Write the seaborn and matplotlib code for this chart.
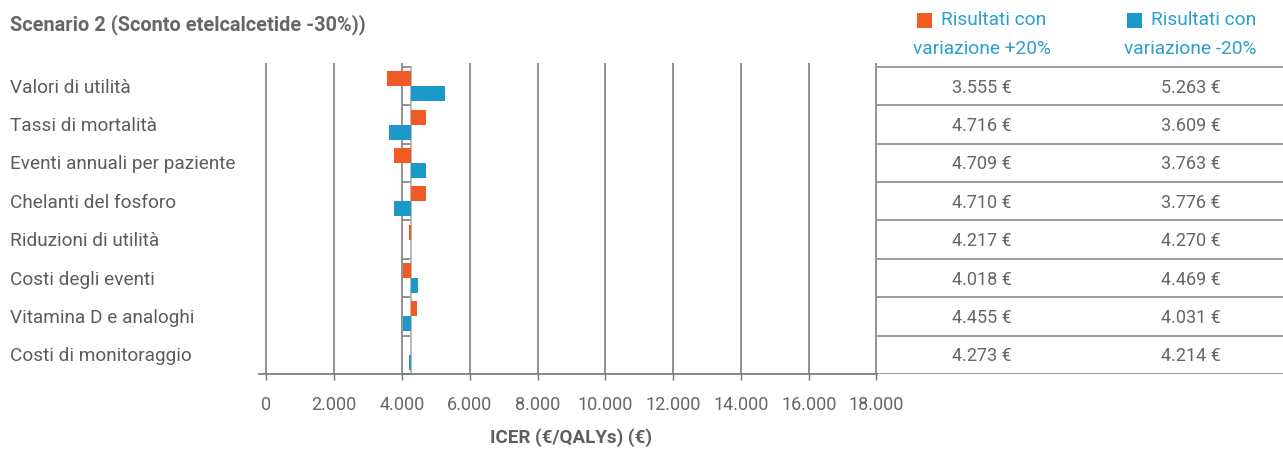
import matplotlib
matplotlib.use("Agg")
import matplotlib.pyplot as plt
import matplotlib.transforms as mtransforms
from matplotlib.patches import Rectangle
import seaborn as sns
import pandas as pd
import numpy as np

# ---------------- data ----------------
categories = ["Valori di utilità", "Tassi di mortalità", "Eventi annuali per paziente",
              "Chelanti del fosforo", "Riduzioni di utilità", "Costi degli eventi",
              "Vitamina D e analoghi", "Costi di monitoraggio"]
# bar ends as drawn in the chart
bar_plus20 = [3555, 4716, 3763, 4710, 4217, 4018, 4455, 4273]
bar_minus20 = [5263, 3609, 4709, 3776, 4270, 4469, 4031, 4214]
# values printed in the table
table_plus20 = [3555, 4716, 4709, 4710, 4217, 4018, 4455, 4273]
table_minus20 = [5263, 3609, 3763, 3776, 4270, 4469, 4031, 4214]
base_icer = 4265
series_names = ["+20%", "-20%"]
header_line1 = ["Risultati con", "Risultati con"]
header_line2 = ["variazione +20%", "variazione -20%"]
x_ticks = [0, 2000, 4000, 6000, 8000, 10000, 12000, 14000, 16000, 18000]
x_tick_labels = ["0", "2.000", "4.000", "6.000", "8.000", "10.000", "12.000",
                 "14.000", "16.000", "18.000"]
title = "Scenario 2 (Sconto etelcalcetide -30%))"
xlabel = "ICER (€/QALYs) (€)"

# ---------------- style ----------------
ORANGE = "#F15A22"
BLUE = "#1B9AC9"
HEAD = "#2A9FD2"
GRID = "#747474"
TXT = "#5c5c5c"

sns.set_theme(style="white")
plt.rcParams["font.family"] = ["Roboto", "DejaVu Sans"]

W, H = 1283, 449
fig = plt.figure(figsize=(W / 100, H / 100), dpi=100)

def fx(px):
    return px / W

def fy(py):
    return 1 - py / H

ax_left, ax_right, ax_top, ax_bot = 259, 877, 63, 374
ax = fig.add_axes([fx(ax_left), fy(ax_bot), fx(ax_right - ax_left), (ax_bot - ax_top) / H])

df = pd.DataFrame({
    "category": categories * 2,
    "series": [series_names[0]] * len(categories) + [series_names[1]] * len(categories),
    "value": bar_plus20 + bar_minus20,
})
df["delta"] = df["value"] - base_icer

sns.barplot(data=df, y="category", x="delta", hue="series", order=categories,
            hue_order=series_names, palette=[ORANGE, BLUE], left=base_icer,
            width=0.78, saturation=1, legend=False, orient="h", ax=ax,
            linewidth=0, zorder=3)

n = len(categories)
top_lim = -0.5 - 4 / 38.4
ax.set_ylim(n - 0.5, top_lim)
ax.set_xlim(-220, 18015)

# x axis
ax.set_xticks(x_ticks)
ax.set_xticklabels(x_tick_labels)
ax.xaxis.grid(True, color=GRID, linewidth=1.1)
ax.yaxis.grid(False)
ax.set_axisbelow(True)
ax.tick_params(axis="x", direction="out", length=4.5, width=1, color=GRID,
               labelsize=13, labelcolor="#666666", pad=11, bottom=True)

# y axis at base value with boundary ticks
bounds = np.arange(-0.5, n, 1.0)
ax.set_yticks(bounds)
ax.set_yticklabels([""] * len(bounds))
ax.set_ylabel("")
ax.set_xlabel("")
for s in ["top", "right"]:
    ax.spines[s].set_visible(False)
ax.spines["bottom"].set_color(GRID)
ax.spines["bottom"].set_linewidth(1.2)
ax.spines["left"].set_position(("data", base_icer))
ax.spines["left"].set_bounds(-0.5, n - 0.5)
ax.spines["left"].set_color("#b4b4b4")
ax.spines["left"].set_linewidth(1.3)
ax.spines["left"].set_zorder(2)
ax.tick_params(axis="y", direction="out", length=6.5, width=1.2, color="#808080", left=True)

ax.set_xlabel(xlabel, fontsize=13.5, fontweight="bold", color="#5f5f5f")
ax.xaxis.set_label_coords((571 - ax_left) / (ax_right - ax_left), (ax_bot - 438) / (ax_bot - ax_top))
ax.xaxis.label.set_va("center")

# category labels
trans = mtransforms.blended_transform_factory(fig.transFigure, ax.transData)
for i, c in enumerate(categories):
    ax.text(fx(10), i + 0.04, c, transform=trans, ha="left", va="center", fontsize=13.7,
            color=TXT)

# title
fig.text(fx(10), fy(25), title, ha="left", va="center", fontsize=14.4,
         fontweight="bold", color="#666666")

# ---------------- table ----------------
tax = fig.add_axes([fx(ax_right), fy(ax_bot), fx(W - ax_right), (ax_bot - ax_top) / H])
tax.set_xlim(0, 1)
tax.set_ylim(n - 0.5, top_lim)
tax.axis("off")
for b in bounds:
    tax.axhline(b, color="#8a8a8a", linewidth=1.2)
col_x = [(981.5 - ax_right) / (W - ax_right), (1190.5 - ax_right) / (W - ax_right)]

def fmt(v):
    return f"{v:,}".replace(",", ".") + " €"

for i in range(n):
    tax.text(col_x[0], i + 0.04, fmt(table_plus20[i]), ha="center", va="center", fontsize=13,
             color="#666666")
    tax.text(col_x[1], i + 0.04, fmt(table_minus20[i]), ha="center", va="center", fontsize=13,
             color="#666666")

# header legend
sq_x = [917, 1126.5]
txt_x = [941, 1151]
centers = [982, 1190.5]
for k, colr in enumerate([ORANGE, BLUE]):
    fig.patches.append(Rectangle((fx(sq_x[k]), fy(27.5)), fx(15), 15 / H,
                                 transform=fig.transFigure, facecolor=colr,
                                 edgecolor="none"))
    fig.text(fx(txt_x[k]), fy(20), header_line1[k], ha="left", va="center",
             fontsize=13.8, color=HEAD)
    fig.text(fx(centers[k]), fy(49), header_line2[k], ha="center", va="center",
             fontsize=13.8, color=HEAD)

fig.savefig("out.png", dpi=100)
